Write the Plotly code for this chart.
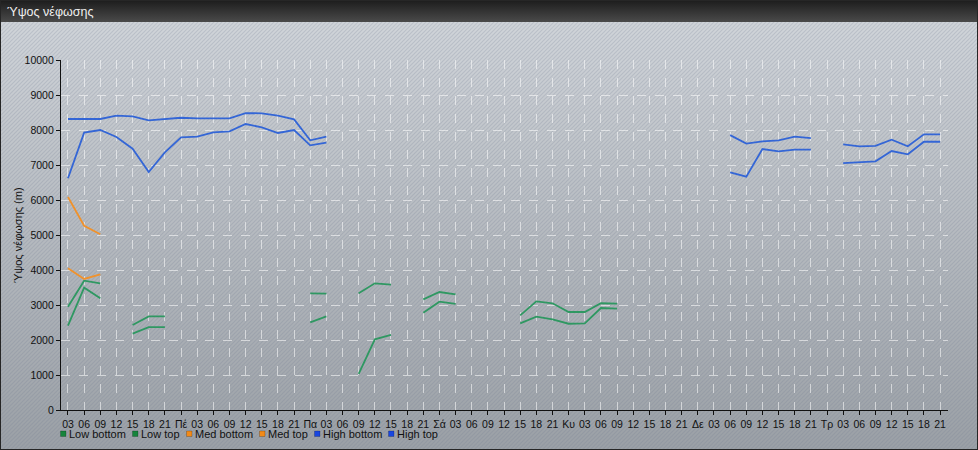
import base64
import plotly.graph_objects as go

N = None

# ---- categories / tick labels ----
tick_labels = (["03", "06", "09", "12", "15", "18", "21"]
               + ["Πέ", "03", "06", "09", "12", "15", "18", "21"]
               + ["Πα", "03", "06", "09", "12", "15", "18", "21"]
               + ["Σά", "03", "06", "09", "12", "15", "18", "21"]
               + ["Κυ", "03", "06", "09", "12", "15", "18", "21"]
               + ["Δε", "03", "06", "09", "12", "15", "18", "21"]
               + ["Τρ", "03", "06", "09", "12", "15", "18", "21"])
slots = list(range(len(tick_labels)))

# ---- series values (m) ----
low_bottom = [2410, 3495, 3190, N, 2180, 2370, 2370,
              N, N, N, N, N, N, N, N,
              2505, 2675, N, 1030, 2020, 2145, N, 2780,
              3095, 3030, N, N, N, 2475, 2665, 2590, 2465,
              2475, 2915, 2895, N, N, N, N, N,
              N, N, N, N, N, N, N, N,
              N, N, N, N, N, N, N]
low_top = [2950, 3695, 3620, N, 2430, 2675, 2675,
           N, N, N, N, N, N, N, N,
           3335, 3325, N, 3335, 3620, 3580, N, 3160,
           3370, 3305, N, N, N, 2705, 3105, 3050, 2800,
           2800, 3050, 3040, N, N, N, N, N,
           N, N, N, N, N, N, N, N,
           N, N, N, N, N, N, N]
med_bottom = [4050, 3745, 3875, N, N, N, N] + [N] * 48
med_top = [6085, 5265, 5020, N, N, N, N] + [N] * 48
high_bottom = [6620, 7925, 8000, 7800, 7465, 6800, 7360,
               7790, 7810, 7935, 7960, 8170, 8075, 7915, 8000,
               7560, 7640, N, N, N, N, N, N,
               N, N, N, N, N, N, N, N,
               N, N, N, N, N, N, N, N,
               N, N, 6790, 6665, 7455, 7390, 7440, 7440,
               N, 7055, 7085, 7105, 7400, 7305, 7665, 7665]
high_top = [8315, 8315, 8315, 8410, 8390, 8275, 8315,
            8350, 8330, 8330, 8330, 8485, 8475, 8410, 8305,
            7705, 7810, N, N, N, N, N, N,
            N, N, N, N, N, N, N, N,
            N, N, N, N, N, N, N, N,
            N, N, 7855, 7610, 7675, 7705, 7810, 7770,
            N, 7590, 7535, 7545, 7725, 7535, 7875, 7875]

series_names = ["Low bottom", "Low top", "Med bottom", "Med top", "High bottom", "High top"]
series_values = [low_bottom, low_top, med_bottom, med_top, high_bottom, high_top]
line_colors = ["#2f9862", "#2f9862", "#f0922c", "#f0922c", "#3466d6", "#3466d6"]
legend_colors = ["#16843c", "#16843c", "#f28a18", "#f28a18", "#1846e0", "#1846e0"]

y_ticks = list(range(0, 10001, 1000))
y_tick_labels = [str(v) for v in y_ticks]

# ---- layout geometry ----
W, H = 978, 450
L, R, T, B = 61, 30, 60, 40
PW, PH = W - L - R, H - T - B

svg = f"""<svg xmlns="http://www.w3.org/2000/svg" width="{W}" height="{H}" viewBox="0 0 {W} {H}">
<defs>
<linearGradient id="g" x1="0" y1="0" x2="0" y2="1">
<stop offset="0" stop-color="#d3d7dc"/><stop offset="1" stop-color="#9ba0a6"/></linearGradient>
<linearGradient id="t" x1="0" y1="0" x2="0" y2="1">
<stop offset="0" stop-color="#1c1c1c"/><stop offset="1" stop-color="#4a4a4a"/></linearGradient>
<pattern id="p" width="4" height="4" patternUnits="userSpaceOnUse">
<path d="M-1,1 l2,-2 M0,4 l4,-4 M3,5 l2,-2" stroke="rgba(110,120,140,0.22)" stroke-width="1.1"/>
</pattern>
</defs>
<rect width="{W}" height="{H}" fill="url(#g)"/>
<rect width="{W}" height="{H}" fill="url(#p)"/>
<rect width="{W}" height="22" fill="url(#t)"/>
<rect x="0.5" y="0.5" width="{W-1}" height="{H-1}" fill="none" stroke="#262626"/>
</svg>"""
svg_uri = "data:image/svg+xml;base64," + base64.b64encode(svg.encode()).decode()

fig = go.Figure()
for name, vals, col in zip(series_names, series_values, line_colors):
    fig.add_trace(go.Scatter(x=slots, y=vals, mode="lines", name=name,
                             line=dict(color=col, width=1.8),
                             connectgaps=False, showlegend=False))

def px_x(px):
    return (px - L) / PW

def px_y(py):
    return (H - B - py) / PH

annotations = [
    dict(text="Ύψος νέφωσης", xref="paper", yref="paper", x=px_x(6), y=px_y(12),
         xanchor="left", yanchor="middle", showarrow=False, borderpad=0,
         font=dict(family="Liberation Sans, Arial", size=12.5, color="#f0f0f0")),
    dict(text="Ύψος νέφωσης (m)", xref="paper", yref="paper", x=px_x(18), y=px_y(235),
         xanchor="center", yanchor="middle", textangle=-90, showarrow=False, borderpad=0,
         font=dict(family="Liberation Sans, Arial", size=11, color="#111")),
]
shapes = []
legend_sq_x = [60.5, 132.5, 186.5, 259.5, 314.5, 388.5]
for name, col, sx in zip(series_names, legend_colors, legend_sq_x):
    shapes.append(dict(type="rect", xref="paper", yref="paper",
                       x0=px_x(sx), x1=px_x(sx + 5.5), y0=px_y(436.5), y1=px_y(431),
                       fillcolor=col, line=dict(color="rgba(0,0,0,0.35)", width=0.6)))
    annotations.append(dict(text=name, xref="paper", yref="paper", x=px_x(sx + 7.5),
                            y=px_y(433.5), xanchor="left", yanchor="middle", showarrow=False,
                            borderpad=0,
                            font=dict(family="Liberation Sans, Arial", size=11, color="#111")))

fig.update_layout(
    width=W, height=H,
    margin=dict(l=L, r=R, t=T, b=B, pad=0),
    paper_bgcolor="#b9bdc3",
    plot_bgcolor="rgba(255,255,255,0.07)",
    showlegend=False,
    font=dict(family="Liberation Sans, Arial", size=10.5, color="#111"),
    images=[dict(source=svg_uri, xref="paper", yref="paper",
                 x=-L / PW, y=1 + T / PH, sizex=W / PW, sizey=H / PH,
                 xanchor="left", yanchor="top", sizing="stretch", layer="below")],
    annotations=annotations,
    shapes=shapes,
    xaxis=dict(range=[-0.433, 54.49], tickmode="array", tickvals=slots, ticktext=tick_labels,
               tickangle=0, ticks="outside", ticklen=4, tickcolor="#111",
               showline=True, linecolor="#111", linewidth=1.2,
               showgrid=True, gridcolor="rgba(255,255,255,0.55)", griddash="dash", gridwidth=1,
               zeroline=False, fixedrange=True,
               tickfont=dict(family="Liberation Sans, Arial", size=10.5, color="#111")),
    yaxis=dict(range=[0, 10000], tickmode="array", tickvals=y_ticks, ticktext=y_tick_labels,
               ticks="outside", ticklen=4, tickcolor="#111",
               showline=True, linecolor="#111", linewidth=1.2,
               showgrid=True, gridcolor="rgba(255,255,255,0.55)", griddash="dash", gridwidth=1,
               zeroline=False, fixedrange=True,
               tickfont=dict(family="Liberation Sans, Arial", size=10.5, color="#111")),
)

fig.write_html("out.html", config={"displayModeBar": False},
               post_script="document.body.style.margin='0';document.body.style.padding='0';")
